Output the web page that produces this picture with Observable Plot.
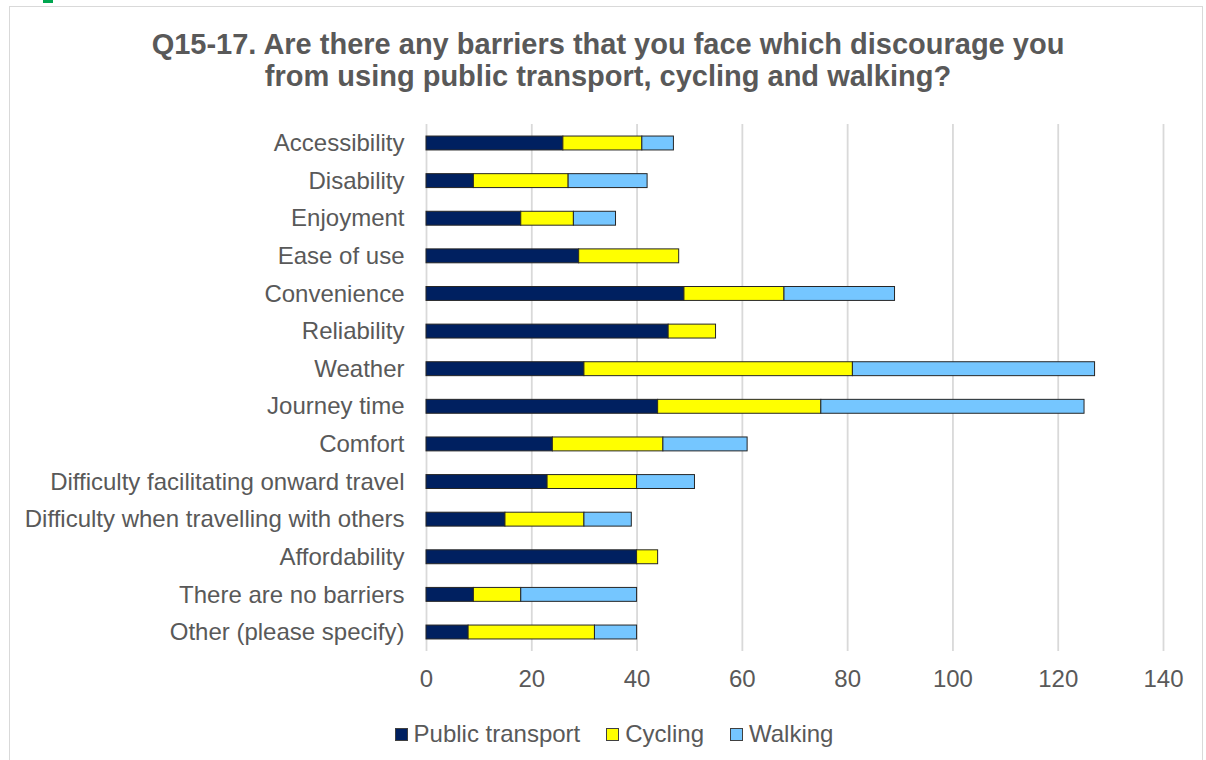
<!DOCTYPE html>
<html>
<head>
<meta charset="utf-8">
<script src="https://cdn.jsdelivr.net/npm/d3@7"></script>
<script src="https://cdn.jsdelivr.net/npm/@observablehq/plot@0.6"></script>
<style>
  html, body { margin: 0; padding: 0; background: #fff; }
  body { width: 1206px; height: 760px; position: relative; overflow: hidden; font-family: "Liberation Sans", Arial, sans-serif; }
  #frame { position: absolute; left: 9px; top: 6px; width: 1194px; height: 800px; border: 1.5px solid #d9d9d9; box-sizing: border-box; }
  #green { position: absolute; left: 43px; top: 0; width: 10px; height: 3px; background: #00a650; }
  #title { position: absolute; left: 0; top: 28px; width: 1216px; text-align: center; font-size: 29px; font-weight: bold; line-height: 32px; color: #595959; }
  #chart { position: absolute; left: 0; top: 94px; }
  #chart svg { display: block; }
  #legend { position: absolute; left: 0; top: 719px; width: 1228px; display: flex; justify-content: center; gap: 26px; font-size: 24px; color: #595959; line-height: 30px; }
  .item { display: flex; align-items: center; }
  .sw { width: 11px; height: 11px; border: 1px solid #404040; margin-right: 6px; }
</style>
</head>
<body>
<div id="frame"></div>
<div id="green"></div>
<div id="title">Q15-17. Are there any barriers that you face which discourage you<br>from using public transport, cycling and walking?</div>
<div id="chart"></div>
<div id="legend"></div>
<script>
const categories = [
  "Accessibility", "Disability", "Enjoyment", "Ease of use", "Convenience",
  "Reliability", "Weather", "Journey time", "Comfort",
  "Difficulty facilitating onward travel", "Difficulty when travelling with others",
  "Affordability", "There are no barriers", "Other (please specify)"
];
const series = ["Public transport", "Cycling", "Walking"];
const colors = ["#002060", "#FFFF00", "#75C6FF"];
const publicTransport = [26, 9, 18, 29, 49, 46, 30, 44, 24, 23, 15, 40, 9, 8];
const cycling         = [15, 18, 10, 19, 19, 9, 51, 31, 21, 17, 15, 4, 9, 24];
const walking         = [6, 15, 8, 0, 21, 0, 46, 50, 16, 11, 9, 0, 22, 8];
const xTicks = [0, 20, 40, 60, 80, 100, 120, 140];

const valuesBySeries = [publicTransport, cycling, walking];
const data = [];
categories.forEach((c, i) => {
  series.forEach((s, j) => {
    const v = valuesBySeries[j][i];
    if (v > 0) data.push({cat: c, series: s, value: v});
  });
});

const chart = Plot.plot({
  width: 1206,
  height: 610,
  marginTop: 30,
  marginBottom: 53,
  marginLeft: 426,
  marginRight: 43,
  style: {fontFamily: "'Liberation Sans', Arial, sans-serif", fontSize: "24px", color: "#595959", background: "transparent"},
  x: {domain: [0, 140], ticks: xTicks, label: null},
  y: {domain: categories, paddingInner: 0.63, paddingOuter: 0.32, round: false, label: null},
  color: {domain: series, range: colors},
  marks: [
    Plot.gridX(xTicks, {stroke: "#d9d9d9", strokeWidth: 1.8, strokeOpacity: 1}),
    Plot.barX(data, Plot.stackX({x: "value", y: "cat", fill: "series", order: series, stroke: "#262626", strokeWidth: 1})),
    Plot.axisX(xTicks, {tickSize: 0, tickPadding: 18, fontSize: 24, fill: "#595959", label: null}),
    Plot.axisY({tickSize: 0, tickPadding: 22, fontSize: 24, fill: "#595959", label: null})
  ]
});
document.getElementById("chart").appendChild(chart);

const legend = document.getElementById("legend");
series.forEach((s, i) => {
  const item = document.createElement("div");
  item.className = "item";
  const sw = document.createElement("div");
  sw.className = "sw";
  sw.style.background = colors[i];
  const t = document.createElement("span");
  t.textContent = s;
  item.appendChild(sw);
  item.appendChild(t);
  legend.appendChild(item);
});
</script>
</body>
</html>
